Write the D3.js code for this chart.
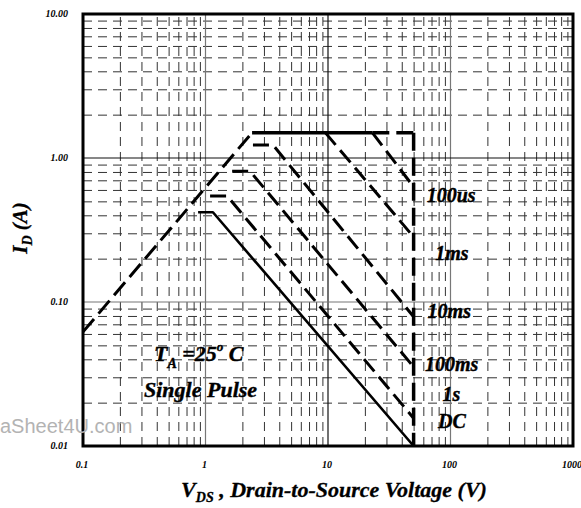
<!DOCTYPE html>
<html>
<head>
<meta charset="utf-8">
<script src="https://cdn.jsdelivr.net/npm/d3@7"></script>
<style>
  body { margin: 0; background: #fff; }
  svg text { font-family: "Liberation Serif", "DejaVu Serif", serif; font-weight: bold; font-style: italic; }
</style>
</head>
<body>
<div id="chart"></div>
<script>
// axis ticks
const xTickValues = [0.1, 1, 10, 100, 1000];
const xTickLabels = ["0.1", "1", "10", "100", "1000"];
const yTickValues = [0.01, 0.1, 1, 10];
const yTickLabels = ["0.01", "0.10", "1.00", "10.00"];

// safe operating area limits, [VDS, ID]
const rdsLimit = [[0.1, 0.062], [2.4, 1.5]];
const idmLimit = [[2.4, 1.5], [23, 1.5]];
const idmDashed = [[23, 1.5], [50, 1.5]];
const bvdssLimit = [[50, 1.5], [50, 0.01]];
const pulse100us = [[23, 1.5], [50, 0.63]];
const pulse1ms = [[9.5, 1.5], [50, 0.283]];
const pulse10ms = [[2.44, 1.23], [3.56, 1.23], [50, 0.079]];
const pulse100ms = [[1.65, 0.81], [2.31, 0.81], [50, 0.0354]];
const pulse1s = [[1.09, 0.545], [1.5, 0.545], [50, 0.0156]];
const dcLine = [[0.87, 0.42], [1.15, 0.42], [50, 0.01]];

// curve labels
const curveLabels = ["100us", "1ms", "10ms", "100ms", "1s", "DC"];
const labelV = [64, 75, 65, 62, 86, 79];
const labelI = [0.55, 0.22, 0.087, 0.037, 0.023, 0.015];

const width = 581, height = 508;
const svg = d3.select("#chart").append("svg")
    .attr("width", width)
    .attr("height", height);
svg.append("rect").attr("width", width).attr("height", height).attr("fill", "#fff");

const x = d3.scaleLog().domain([0.1, 1000]).range([83, 573]);
const y = d3.scaleLog().domain([0.01, 10]).range([446, 14]);
const plotL = x.range()[0], plotR = x.range()[1];
const plotT = y.range()[1], plotB = y.range()[0];

// minor grid (2..9 in every decade)
const isDecade = v => Math.abs(Math.log10(v) - Math.round(Math.log10(v))) < 1e-6;
const xMinor = x.ticks().filter(v => !isDecade(v));
const yMinor = y.ticks().filter(v => !isDecade(v));

const gx = svg.append("g")
    .attr("transform", `translate(0,${plotB})`)
    .call(d3.axisBottom(x).tickValues(xMinor).tickSize(-(plotB - plotT)).tickFormat(""));
const gy = svg.append("g")
    .attr("transform", `translate(${plotL},0)`)
    .call(d3.axisLeft(y).tickValues(yMinor).tickSize(-(plotR - plotL)).tickFormat(""));
[gx, gy].forEach(g => {
    g.select(".domain").remove();
    g.selectAll("line")
        .attr("stroke", "#333")
        .attr("stroke-width", 1)
        .attr("stroke-dasharray", "9,6");
});

// major grid lines
svg.append("g").selectAll("line")
    .data(xTickValues.slice(1, -1))
    .enter().append("line")
    .attr("x1", d => x(d)).attr("x2", d => x(d))
    .attr("y1", plotT).attr("y2", plotB)
    .attr("stroke", d => d === 10 ? "#111" : "#777")
    .attr("stroke-width", 1.2);
svg.append("g").selectAll("line")
    .data(yTickValues.slice(1, -1))
    .enter().append("line")
    .attr("x1", plotL).attr("x2", plotR)
    .attr("y1", d => y(d)).attr("y2", d => y(d))
    .attr("stroke", d => d === 1 ? "#111" : "#777")
    .attr("stroke-width", 1.2);

// tick labels
svg.append("g").selectAll("text")
    .data(xTickValues)
    .enter().append("text")
    .attr("x", d => x(d) - 1)
    .attr("y", 468)
    .attr("text-anchor", "middle")
    .attr("font-size", 10)
    .text((d, i) => xTickLabels[i]);
svg.append("g").selectAll("text")
    .data(yTickValues)
    .enter().append("text")
    .attr("x", 68)
    .attr("y", d => y(d) + 3)
    .attr("text-anchor", "end")
    .attr("font-size", 10)
    .text((d, i) => yTickLabels[i]);

// curves
const line = d3.line().x(d => x(d[0])).y(d => y(d[1]));
function drawCurve(pts, w, dash) {
    svg.append("path")
        .attr("d", line(pts))
        .attr("fill", "none")
        .attr("stroke", "#000")
        .attr("stroke-width", w)
        .attr("stroke-dasharray", dash)
        .attr("stroke-linejoin", "round");
}
drawCurve(rdsLimit, 3, "17,7");
drawCurve(idmDashed, 3.5, "17,7");
drawCurve(bvdssLimit, 3.5, "18,7");
drawCurve(pulse100us, 3, "16,7");
drawCurve(pulse1ms, 3, "16,7");
drawCurve(pulse10ms, 3, "16,7");
drawCurve(pulse100ms, 3, "16,7");
drawCurve(pulse1s, 3, "16,7");
drawCurve(dcLine, 2.6, null);
drawCurve(idmLimit, 3.5, null);

// frame
svg.append("rect")
    .attr("x", plotL).attr("y", plotT)
    .attr("width", plotR - plotL).attr("height", plotB - plotT)
    .attr("fill", "none")
    .attr("stroke", "#000")
    .attr("stroke-width", 3);

// curve labels
svg.append("g").selectAll("text")
    .data(curveLabels)
    .enter().append("text")
    .attr("x", (d, i) => x(labelV[i]))
    .attr("y", (d, i) => y(labelI[i]))
    .attr("dy", "0.35em")
    .attr("font-size", 20)
    .attr("stroke", "#000").attr("stroke-width", 0.4)
    .text(d => d);

// conditions
const cond = svg.append("text").attr("x", 154).attr("y", 361).attr("font-size", 22)
    .attr("stroke", "#000").attr("stroke-width", 0.4);
cond.append("tspan").text("T");
cond.append("tspan").attr("font-size", 14).attr("dy", 7).text("A");
cond.append("tspan").attr("dy", -7).text(" =25");
cond.append("tspan").attr("font-size", 13).attr("dy", -10).text("o");
cond.append("tspan").attr("dy", 10).text(" C");
svg.append("text").attr("x", 144).attr("y", 397).attr("font-size", 22)
    .attr("stroke", "#000").attr("stroke-width", 0.4)
    .text("Single Pulse");

// axis titles
const xt = svg.append("text").attr("x", 334).attr("y", 497).attr("text-anchor", "middle").attr("font-size", 22)
    .attr("stroke", "#000").attr("stroke-width", 0.3);
xt.append("tspan").text("V");
xt.append("tspan").attr("font-size", 14).attr("dy", 5).text("DS");
xt.append("tspan").attr("dy", -5).text(" , Drain-to-Source Voltage (V)");

const yt = svg.append("text")
    .attr("transform", "translate(27,228) rotate(-90)")
    .attr("text-anchor", "middle")
    .attr("font-size", 21)
    .attr("stroke", "#000").attr("stroke-width", 0.3);
yt.append("tspan").text("I");
yt.append("tspan").attr("font-size", 14).attr("dy", 5).text("D");
yt.append("tspan").attr("dy", -5).text(" (A)");

// watermark
svg.append("text")
    .attr("x", 0).attr("y", 433)
    .attr("font-size", 20)
    .attr("fill", "#b3b3b3")
    .style("font-family", "'Liberation Sans', Arial, sans-serif")
    .style("font-weight", "normal")
    .style("font-style", "normal")
    .text("aSheet4U.com");
</script>
</body>
</html>
